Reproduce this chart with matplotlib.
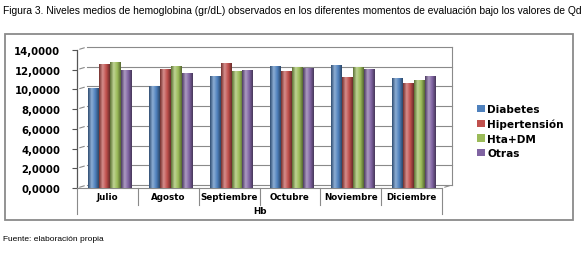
import numpy as np
import matplotlib.pyplot as plt
from matplotlib.patches import Rectangle, Patch
from matplotlib import transforms
from matplotlib.colors import LinearSegmentedColormap, to_rgb

# Data ######################################################################

months = ["Julio", "Agosto", "Septiembre", "Octubre", "Noviembre", "Diciembre"]
series = ["Diabetes", "Hipertensión", "Hta+DM", "Otras"]
diabetes = [10.1, 10.3, 11.4, 12.4, 12.5, 11.2]
hipertension = [12.6, 12.1, 12.7, 11.9, 11.3, 10.7]
hta_dm = [12.8, 12.4, 11.9, 12.3, 12.3, 11.0]
otras = [12.0, 11.7, 12.0, 12.2, 12.1, 11.4]
yticks = [0, 2, 4, 6, 8, 10, 12, 14]

colors = ["#4F81BD", "#C0504D", "#9BBB59", "#8064A2"]
W, H = 586, 255


def shade(c, f):
    r, g, b = to_rgb(c)
    if f < 1:
        return (r * f, g * f, b * f)
    return (r + (1 - r) * (f - 1), g + (1 - g) * (f - 1), b + (1 - b) * (f - 1))


# Figure ####################################################################

fig = plt.figure(figsize=(W / 100, H / 100), dpi=100)
ax = fig.add_axes([77 / W, 66 / H, (442 - 77) / W, (189 - 51) / H])
ax.set_xlim(0, 6)
ax.set_ylim(0, 14)
for s in ax.spines.values():
    s.set_visible(False)

# back wall gridlines (3D look: shifted right and up)
wall = transforms.offset_copy(ax.transData, fig=fig, x=10, y=3, units="dots")
for v in yticks:
    ax.plot([0, 6], [v, v], color="#8a8a8a", lw=0.8, transform=wall,
            clip_on=False, zorder=0)
    ax.annotate("", xy=(0, v), xycoords=wall, xytext=(0, v),
                textcoords="data",
                arrowprops=dict(arrowstyle="-", color="#8a8a8a", lw=0.8))
ax.plot([6, 6], [0, 14], color="#8a8a8a", lw=0.8, transform=wall,
        clip_on=False, zorder=0)
ax.annotate("", xy=(6, 0), xycoords=wall, xytext=(6, 0), textcoords="data",
            arrowprops=dict(arrowstyle="-", color="#8a8a8a", lw=0.8))
ax.plot([0, 6], [0, 0], color="#8a8a8a", lw=0.8, clip_on=False, zorder=1)
ax.plot([0, 0], [0, 14], color="#555555", lw=0.9, clip_on=False, zorder=1)

# bars with cylinder-like shading
values = [diabetes, hipertension, hta_dm, otras]
x = np.arange(len(months)) + 0.54
bw = 0.18
grad = np.linspace(0, 1, 64)
for k, (vals, c) in enumerate(zip(values, colors)):
    cmap = LinearSegmentedColormap.from_list(
        "c%d" % k, [shade(c, 0.6), shade(c, 1.35), c, shade(c, 0.55)])
    bars = ax.bar(x + (k - 1.5) * bw, vals, bw, color=c, zorder=3,
                  edgecolor="none")
    for b in bars:
        im = ax.imshow(grad[None, :], cmap=cmap, aspect="auto",
                       extent=[b.get_x(), b.get_x() + b.get_width(), 0,
                               b.get_height()], zorder=3)
        im.set_clip_path(b)
        b.set_facecolor("none")
ax.set_xlim(0, 6)
ax.set_ylim(0, 14)

ax.set_yticks(yticks)
ax.set_yticklabels(["%d,0000" % v for v in yticks], fontsize=7.3,
                   fontweight="bold")
ax.tick_params(axis="y", length=3.5, pad=8.5, color="#555555")
ax.set_xticks([])

# category table below the plot
blend = transforms.blended_transform_factory(ax.transData, ax.transAxes)
for i in range(len(months) + 1):
    low = -0.19 if i in (0, len(months)) else -0.12
    ax.plot([i, i], [0, low], color="#8a8a8a", lw=0.8, transform=blend,
            clip_on=False)
for i, m in enumerate(months):
    ax.text(i + 0.5, -0.065, m, transform=blend, ha="center", va="center",
            fontsize=6.3, fontweight="bold")
ax.text(3, -0.165, "Hb", transform=blend, ha="center", va="center",
        fontsize=6.3, fontweight="bold")

handles = [Patch(facecolor=c, edgecolor="none", label=s)
           for c, s in zip(colors, series)]
ax.legend(handles=handles, loc="upper left",
          bbox_to_anchor=(472 / W, 1 - 100 / H),
          bbox_transform=fig.transFigure, frameon=False,
          prop=dict(weight="bold", size=7.6), handlelength=0.7,
          handleheight=0.7, handletextpad=0.25, labelspacing=0.42,
          borderpad=0)

# outer frame, title and source
fig.patches.append(Rectangle((5 / W, 1 - 221 / H), 568 / W, 186 / H,
                             transform=fig.transFigure, fill=False,
                             edgecolor="#8a8a8a", lw=1.3))
title = fig.text(3 / W, 1 - 11 / H,
                 "Figura 3. Niveles medios de hemoglobina (gr/dL) observados "
                 "en los diferentes momentos de evaluación bajo los valores "
                 "de Qd",
                 family="Liberation Sans", fontsize=9, va="center", ha="left")
fig.canvas.draw()
tw = title.get_window_extent().width
title.set_fontsize(9 * 578 / tw)
fig.text(3 / W, 1 - 240 / H, "Fuente: elaboración propia",
         family="Liberation Sans", fontsize=6, va="center", ha="left")

fig.savefig("out.png", dpi=100)
